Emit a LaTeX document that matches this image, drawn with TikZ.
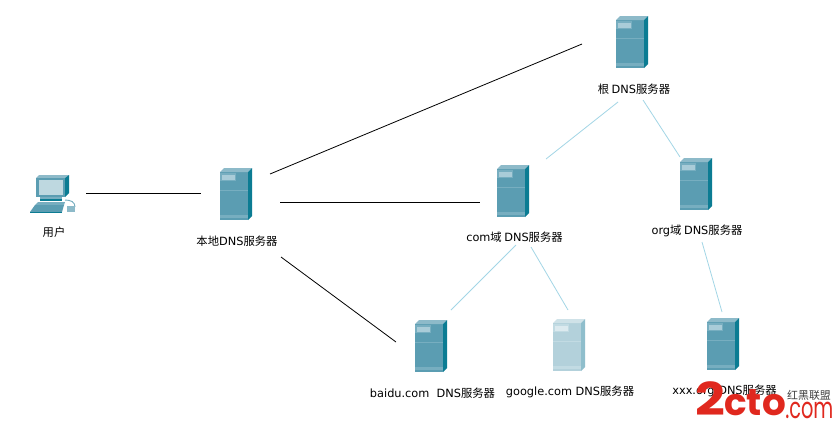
\documentclass[tikz,border=0pt]{standalone}
\usepackage{fontspec}
\setmainfont{Noto Sans CJK SC}
\newfontfamily\latinf{DejaVu Sans}
\newfontfamily\markf{Poppins}
\definecolor{srvfront}{HTML}{5B9DB2}
\definecolor{srvtop}{HTML}{8DBAC9}
\definecolor{srvside}{HTML}{0B7C93}
\definecolor{srvband}{HTML}{77AEC0}
\definecolor{srvslot}{HTML}{A9CCD8}
\definecolor{gfront}{HTML}{B3D1DB}
\definecolor{gtop}{HTML}{CFE2E8}
\definecolor{gside}{HTML}{8FBECC}
\definecolor{gband}{HTML}{C2DBE3}
\definecolor{gslot}{HTML}{DCEAEF}
\definecolor{linkblue}{HTML}{A3D6E6}
\definecolor{markred}{HTML}{E0281E}
\tikzset{
  hostbox/.style={minimum width=21pt,minimum height=36pt,inner sep=0pt,outer sep=0pt},
  pcbox/.style={minimum width=33pt,minimum height=29pt,inner sep=0pt,outer sep=0pt},
  lbl/.style={inner sep=0pt,font=\fontsize{8.5pt}{10pt}\selectfont,text=black},
  wire/.style={draw=black,line width=0.6pt},
  link/.style={draw=linkblue,line width=0.6pt},
  pics/server/.style n args={5}{code={
    \fill[#1] (-14,-24) rectangle (14,24);
    \fill[#2] (-14,-24) -- (-10,-28) -- (18,-28) -- (14,-24) -- cycle;
    \fill[#3] (14,-24) -- (18,-28) -- (18,20) -- (14,24) -- cycle;
    \fill[#4] (-14,-6) rectangle (14,-4.6);
    \fill[#4] (-14,19) rectangle (14,22);
    \fill[#4] (-14,-23) rectangle (2,-15);
    \fill[#5] (-12,-21) rectangle (1,-16);
  }},
  pics/pc/.style={code={
    \fill[srvtop] (-17,-16) -- (-14,-19) -- (16,-19) -- (12,-16) -- cycle;
    \fill[srvside] (12,-16) -- (16,-19) -- (16,-1) -- (12,3) -- cycle;
    \fill[srvfront] (-17,-16) rectangle (12,3);
    \fill[gtop!85!srvfront] (-14,-14) rectangle (10,1);
    \fill[srvband] (-13,3) rectangle (9,5);
    \fill[srvside] (-13,5) rectangle (9,7);
    \draw[srvband,line width=.7pt] (12,6) .. controls (18,6) and (22,8) .. (22,13);
    \fill[srvband] (-15,8) -- (12,8) -- (11,11) -- (-18,11) -- cycle;
    \fill[srvfront] (-18,11) -- (11,11) -- (9,18) -- (-23,18) -- cycle;
    \fill[srvside] (-23,18) rectangle (9,19);
    \fill[srvtop] (14,12) rectangle (22,18);
  }}
}
\begin{document}
\begin{tikzpicture}[x=0.75pt,y=-0.75pt]
\useasboundingbox (0,0) rectangle (834,426);
\fill[white] (0,0) rectangle (834,426);
\node[pcbox] (user) at (53,194) {};
\node[hostbox] (local) at (234,196) {};
\node[hostbox] (root) at (630,44) {};
\node[hostbox] (com) at (511,193) {};
\node[hostbox] (org) at (694,186) {};
\node[hostbox] (baidu) at (429,348) {};
\node[hostbox] (google) at (567,347) {};
\node[hostbox] (xxx) at (721,346) {};
\pic at (user.center) {pc};
\foreach \n in {local,root,com,org,baidu,xxx}
  \pic at (\n.center) {server={srvfront}{srvtop}{srvside}{srvband}{srvslot}};
\pic at (google.center) {server={gfront}{gtop}{gside}{gband}{gslot}};
\draw[wire] ([shift={(33,-1)}]user.center) -- ([shift={(-33,-3)}]local.center);
\draw[wire] ([shift={(36,-22)}]local.center) -- ([shift={(-48,0)}]root.center);
\draw[wire] ([shift={(46,6)}]local.center) -- ([shift={(-31,9)}]com.center);
\draw[wire] ([shift={(47,61)}]local.center) -- ([shift={(-33,-6)}]baidu.center);
\draw[link] ([shift={(-12,58)}]root.center) -- ([shift={(35,-34)}]com.center);
\draw[link] ([shift={(13,56)}]root.center) -- ([shift={(-14,-29)}]org.center);
\draw[link] ([shift={(5,52)}]com.center) -- ([shift={(22,-38)}]baidu.center);
\draw[link] ([shift={(20,54)}]com.center) -- ([shift={(1,-37)}]google.center);
\draw[link] ([shift={(8,56)}]org.center) -- ([shift={(1,-34)}]xxx.center);
\node[lbl] (tuser) at (54,232) {用户};
\node[lbl] (tlocal) at (237,241) {本地{\latinf DNS}服务器};
\node[lbl] (troot) at (634,89) {根 {\latinf DNS}服务器};
\node[lbl] (tcom) at (514.5,237) {{\latinf com}域 {\latinf DNS}服务器};
\node[lbl] (torg) at (697,231) {{\latinf org}域 {\latinf DNS}服务器};
\node[lbl] (tbaidu) at (432.5,393) {{\latinf baidu.com\ \ DNS}服务器};
\node[lbl] (tgoogle) at (570,392) {{\latinf google.com DNS}服务器};
\node[lbl] (txxx) at (724.5,391) {{\latinf xxx.org DNS}服务器};
\node[inner sep=0pt,anchor=base west,text=markred,font=\markf\bfseries\fontsize{34pt}{34pt}\selectfont] (mark) at (695,415) {\scalebox{1.15}[1]{2}};
\node[inner sep=0pt,anchor=base west,text=markred,font=\markf\bfseries\fontsize{28pt}{28pt}\selectfont] (markm) at (724,415) {cto};
\node[inner sep=0pt,anchor=base west,text=markred,font=\markf\fontsize{22pt}{22pt}\selectfont] (markb) at (785,418) {\scalebox{.66}[1]{.com}};
\node[inner sep=0pt,text=black!75,font=\fontsize{8.2pt}{9pt}\selectfont] (markc) at (809,395) {红黑联盟};
\end{tikzpicture}
\end{document}
